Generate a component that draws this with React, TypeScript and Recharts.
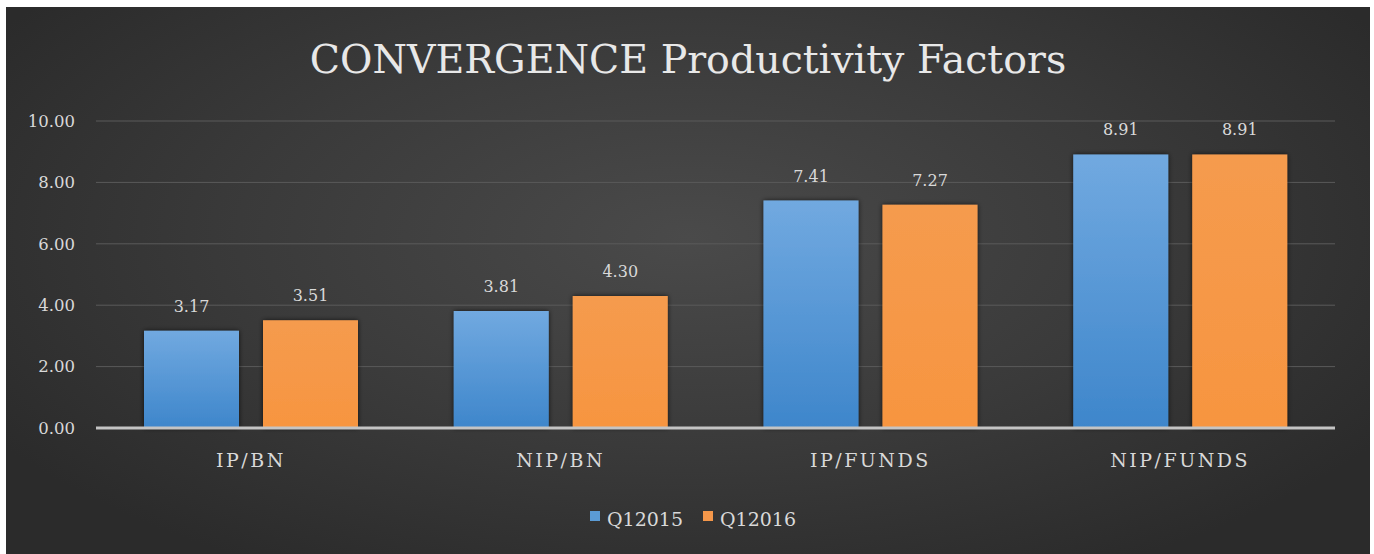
import React from "react";
import { BarChart, Bar, XAxis, YAxis, CartesianGrid, Legend, LabelList } from "recharts";

const categories = ["IP/BN", "NIP/BN", "IP/FUNDS", "NIP/FUNDS"];
const q12015 = [3.17, 3.81, 7.41, 8.91];
const q12016 = [3.51, 4.3, 7.27, 8.91];
const yTicks = [0, 2, 4, 6, 8, 10];

const data = categories.map((c, i) => ({ name: c, Q12015: q12015[i], Q12016: q12016[i] }));

const FONT = "DejaVu Serif";

const renderLegend = (props: any) => {
  const { payload } = props;
  return (
    <div style={{ display: "flex", justifyContent: "center", alignItems: "center", paddingLeft: 10 }}>
      {(payload || []).map((entry: any, i: number) => (
        <div key={i} style={{ display: "flex", alignItems: "center", marginRight: i === 0 ? 20 : 0 }}>
          <span
            style={{
              display: "inline-block",
              width: 10,
              height: 10,
              background: entry.dataKey === "Q12015" ? "#5b9bd5" : "#f4974a",
              marginRight: 7,
              marginTop: -6,
            }}
          />
          <span style={{ color: "#d9d9d9", fontFamily: FONT, fontSize: 19 }}>{entry.value}</span>
        </div>
      ))}
    </div>
  );
};

export default function App() {
  return (
    <div style={{ position: "absolute", left: 0, top: 0, width: 1374, height: 554, background: "#ffffff" }}>
      <div
        style={{
          position: "absolute",
          left: 6,
          top: 7,
          width: 1364,
          height: 547,
          background: "radial-gradient(ellipse 60% 70% at 50% 42%, #4a4a4a 0%, #3a3a3a 55%, #2b2b2b 100%)",
          overflow: "hidden",
        }}
      >
        <div
          style={{
            position: "absolute",
            left: 0,
            top: 30,
            width: 1364,
            textAlign: "center",
            fontFamily: FONT,
            fontSize: 39.5,
            lineHeight: "44px",
            color: "#e8e8e8",
            letterSpacing: 0,
          }}
        >
          CONVERGENCE Productivity Factors
        </div>
        <div style={{ position: "absolute", left: 0, top: 0 }}>
          <BarChart
            width={1364}
            height={547}
            data={data}
            margin={{ top: 114, right: 35, bottom: 0, left: 0 }}
            barCategoryGap={48}
            barGap={24}
          >
            <defs>
              <linearGradient id="gBlue" x1="0" y1="0" x2="0" y2="1">
                <stop offset="0%" stopColor="#71a9e0" />
                <stop offset="100%" stopColor="#3e86cb" />
              </linearGradient>
              <linearGradient id="gOrange" x1="0" y1="0" x2="0" y2="1">
                <stop offset="0%" stopColor="#f59b4e" />
                <stop offset="100%" stopColor="#f79540" />
              </linearGradient>
              <filter id="shadow" x="-10%" y="-10%" width="120%" height="120%">
                <feDropShadow dx="0" dy="0" stdDeviation="2.5" floodColor="#000000" floodOpacity="0.7" />
              </filter>
            </defs>
            <CartesianGrid horizontal vertical={false} stroke="#5a5a5a" strokeWidth={1} />
            <XAxis
              dataKey="name"
              height={104}
              axisLine={{ stroke: "#c4c4c4", strokeWidth: 3 }}
              tickLine={false}
              tickSize={0}
              tickMargin={26}
              tick={{ fill: "#d9d9d9", fontFamily: FONT, fontSize: 19, letterSpacing: 2.5 }}
            />
            <YAxis
              width={90}
              domain={[0, 10]}
              ticks={yTicks}
              axisLine={false}
              tickLine={false}
              tickSize={0}
              tickMargin={21}
              tickFormatter={(v: number) => v.toFixed(2)}
              tick={{ fill: "#d9d9d9", fontFamily: FONT, fontSize: 16.5 }}
            />
            <Legend
              verticalAlign="bottom"
              align="center"
              wrapperStyle={{ bottom: 24, left: 0, width: 1364 }}
              content={renderLegend}
            />
            <Bar dataKey="Q12015" fill="url(#gBlue)" isAnimationActive={false} filter="url(#shadow)">
              <LabelList
                dataKey="Q12015"
                position="top"
                offset={19}
                formatter={(v: number) => v.toFixed(2)}
                style={{ fill: "#d9d9d9", fontFamily: FONT, fontSize: 16 }}
              />
            </Bar>
            <Bar dataKey="Q12016" fill="url(#gOrange)" isAnimationActive={false} filter="url(#shadow)">
              <LabelList
                dataKey="Q12016"
                position="top"
                offset={19}
                formatter={(v: number) => v.toFixed(2)}
                style={{ fill: "#d9d9d9", fontFamily: FONT, fontSize: 16 }}
              />
            </Bar>
          </BarChart>
        </div>
      </div>
    </div>
  );
}
